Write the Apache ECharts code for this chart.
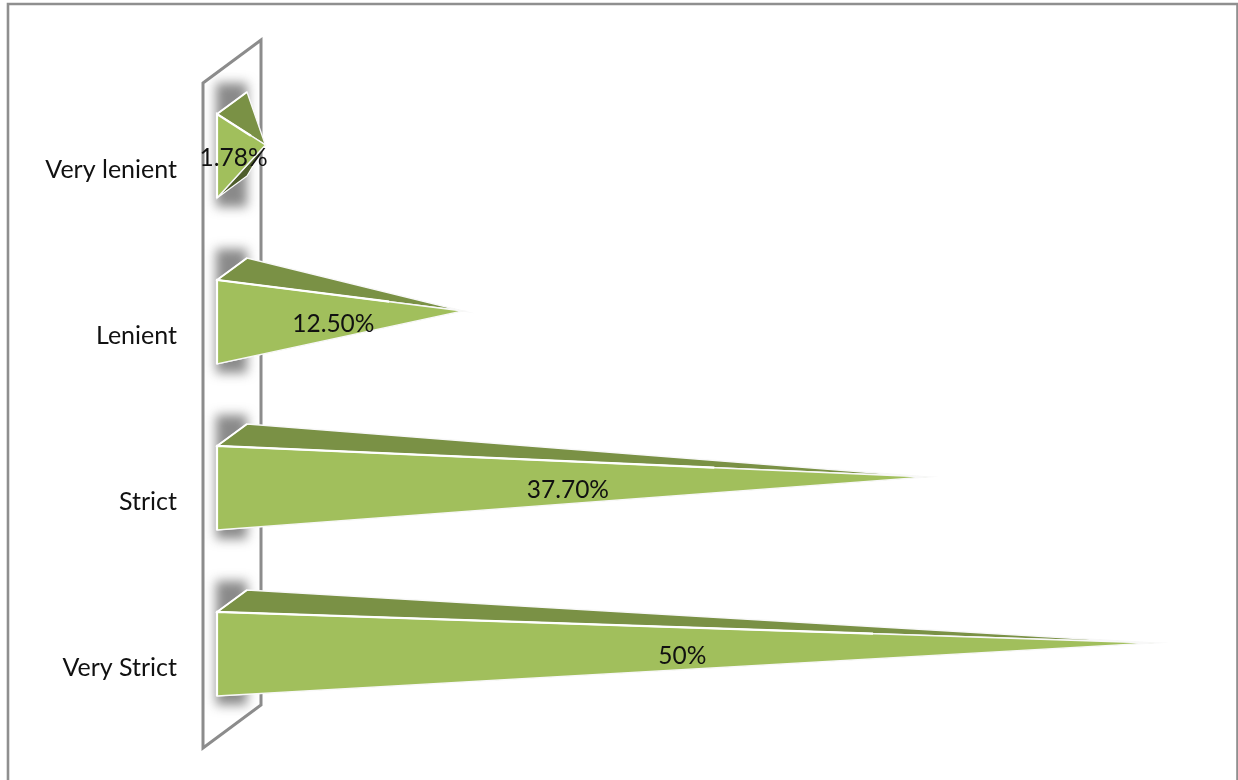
<!DOCTYPE html>
<html>
<head>
<meta charset="utf-8">
<style>html,body{margin:0;padding:0;background:#fff;overflow:hidden}#c{width:1238px;height:780px}</style>
<script src="https://cdn.jsdelivr.net/npm/echarts@6/dist/echarts.min.js"></script>
</head>
<body>
<div id="c"></div>
<script>
const categories = ['Very lenient', 'Lenient', 'Strict', 'Very Strict'];
const values = [1.78, 12.5, 37.7, 50];
const valueLabels = ['1.78%', '12.50%', '37.70%', '50%'];

const chart = echarts.init(document.getElementById('c'), null, {renderer: 'canvas'});

function renderPyramid(params, api) {
  const v = api.value(0);
  const idx = api.value(1);
  const base = api.coord([0, idx]);
  const tip = api.coord([v, idx]);
  const lab = api.coord([v * 0.505, idx]);
  const x0 = base[0], c = base[1];
  const top = c - 54, bottom = c + 30, mid = (top + bottom) / 2;
  const bx = x0 + 30, by = -22;
  const apex = [tip[0] + 15.6, mid - 11];
  const along = [x0 + (apex[0] - x0) * 0.7, top + (apex[1] - top) * 0.7];
  const edge = {fill: null, stroke: '#f8f8f8', lineWidth: 1.4, lineJoin: 'miter', miterLimit: 40};
  const far = 3000;
  return {
    type: 'group',
    children: [
      {type: 'rect', shape: {x: x0 - 1 - far, y: top + by - 9, width: bx - x0 + 1, height: bottom - top - by + 18},
       style: {fill: '#777', shadowColor: 'rgba(125,125,125,0.9)', shadowBlur: 11, shadowOffsetX: far}},
      {type: 'polygon', shape: {points: [[x0, bottom], [bx, bottom + by], apex]},
       style: {fill: '#4f5e2c', stroke: '#ffffff', lineWidth: 1.2, lineJoin: 'round'}},
      {type: 'polygon', shape: {points: [[x0, top], [bx, top + by], apex]},
       style: Object.assign({}, edge, {fill: '#7a9145'})},
      {type: 'polygon', shape: {points: [[x0, top], [x0, bottom], apex]},
       style: Object.assign({}, edge, {fill: '#a1bf5c'})},
      {type: 'polyline', shape: {points: [along, [x0, top], [x0, bottom]]},
       style: {fill: null, stroke: '#fff', lineWidth: 2.2}},
      {type: 'polyline', shape: {points: [[x0, top], [bx, top + by]]},
       style: {fill: null, stroke: '#fff', lineWidth: 2}},
      {type: 'text', x: lab[0], y: c - 9.5,
       style: {text: valueLabels[params.dataIndex], fill: '#111', font: '24.5px Lato',
               align: 'center', verticalAlign: 'middle'}}
    ]
  };
}

chart.setOption({
  animation: false,
  backgroundColor: '#fff',
  graphic: [
    {type: 'polyline', silent: true, z: 0,
     shape: {points: [[8, 790], [8, 4], [1237.5, 4], [1237.5, 790]]},
     style: {fill: null, stroke: '#8f8f8f', lineWidth: 2.6}},
    {type: 'polygon', silent: true, z: 1,
     shape: {points: [[203, 83], [261, 40], [261, 705], [203, 748]]},
     style: {fill: '#fff', stroke: '#8c8c8c', lineWidth: 3, lineJoin: 'miter'}}
  ],
  grid: {left: 217, right: 7.35, top: 85, bottom: 31},
  xAxis: {type: 'value', min: 0, max: 55, show: false},
  yAxis: {
    type: 'category', inverse: true, data: categories,
    axisLine: {show: false}, axisTick: {show: false}, splitLine: {show: false},
    axisLabel: {
      margin: 40,
      formatter: '{a|{value}}',
      rich: {a: {color: '#111', fontFamily: 'Lato', fontSize: 25, padding: [4, 0, 0, 0]}}
    }
  },
  series: [{
    type: 'custom', clip: false,
    renderItem: renderPyramid,
    encode: {x: 0, y: 1},
    data: values.map((v, i) => [v, i])
  }]
});
</script>
</body>
</html>
